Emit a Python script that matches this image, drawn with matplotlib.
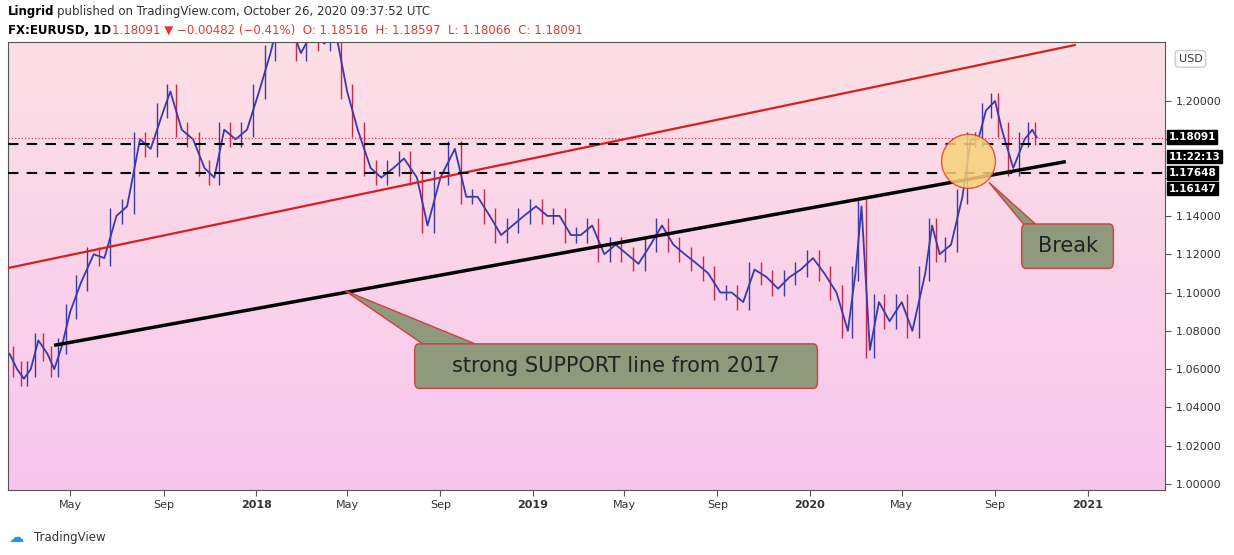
import matplotlib
matplotlib.use('Agg')
import matplotlib.pyplot as plt
import matplotlib.dates as mdates
from matplotlib.patches import Ellipse, FancyBboxPatch, Polygon
import numpy as np
import datetime as dt

# EURUSD daily closes, sampled roughly twice a month
dates = ["2017-02-10", "2017-02-20", "2017-03-01", "2017-03-10", "2017-03-20", "2017-04-01",
         "2017-04-10", "2017-04-20", "2017-05-01", "2017-05-15", "2017-06-01", "2017-06-15",
         "2017-07-01", "2017-07-15", "2017-08-01", "2017-08-15", "2017-09-01", "2017-09-10",
         "2017-09-25", "2017-10-10", "2017-10-25", "2017-11-07", "2017-11-20", "2017-12-05",
         "2017-12-20", "2018-01-05", "2018-01-20", "2018-02-01", "2018-02-15", "2018-03-01",
         "2018-03-15", "2018-04-01", "2018-04-15", "2018-05-01", "2018-05-15", "2018-06-01",
         "2018-06-15", "2018-07-01", "2018-07-15", "2018-08-01", "2018-08-15", "2018-09-01",
         "2018-09-20", "2018-10-05", "2018-10-20", "2018-11-05", "2018-11-20", "2018-12-05",
         "2018-12-20", "2019-01-05", "2019-01-20", "2019-02-05", "2019-02-20", "2019-03-05",
         "2019-03-20", "2019-04-05", "2019-04-20", "2019-05-05", "2019-05-20", "2019-06-05",
         "2019-06-20", "2019-07-05", "2019-07-20", "2019-08-05", "2019-08-20", "2019-09-05",
         "2019-09-20", "2019-10-05", "2019-10-20", "2019-11-05", "2019-11-20", "2019-12-05",
         "2019-12-20", "2020-01-05", "2020-01-20", "2020-02-05", "2020-02-20", "2020-03-01",
         "2020-03-09", "2020-03-20", "2020-04-01", "2020-04-15", "2020-05-01", "2020-05-15",
         "2020-06-01", "2020-06-10", "2020-06-20", "2020-07-05", "2020-07-20", "2020-07-31",
         "2020-08-10", "2020-08-20", "2020-09-01", "2020-09-10", "2020-09-25", "2020-10-10",
         "2020-10-20", "2020-10-26"]
closes = [1.068, 1.060, 1.055, 1.060, 1.075, 1.068, 1.060, 1.072, 1.090, 1.105, 1.120, 1.118,
          1.140, 1.145, 1.180, 1.175, 1.195, 1.205, 1.185, 1.180, 1.165, 1.160, 1.185, 1.180,
          1.185, 1.205, 1.225, 1.245, 1.240, 1.225, 1.235, 1.230, 1.238, 1.205, 1.185, 1.165,
          1.160, 1.165, 1.170, 1.160, 1.135, 1.160, 1.175, 1.150, 1.150, 1.140, 1.130, 1.135,
          1.140, 1.145, 1.140, 1.140, 1.130, 1.130, 1.135, 1.120, 1.125, 1.120, 1.115, 1.125,
          1.135, 1.125, 1.120, 1.115, 1.110, 1.100, 1.100, 1.095, 1.112, 1.108, 1.102, 1.108,
          1.112, 1.118, 1.110, 1.100, 1.080, 1.110, 1.145, 1.070, 1.095, 1.085, 1.095, 1.080,
          1.110, 1.135, 1.120, 1.125, 1.150, 1.180, 1.180, 1.195, 1.200, 1.185, 1.165, 1.180,
          1.185, 1.181]

# trend lines (start date, start price, end date, end price)
red_line = ("2017-02-08", 1.1128, "2020-12-15", 1.2292)
support_line = ("2017-04-12", 1.0726, "2020-12-01", 1.1682)
dashed_levels = [1.1776, 1.1624]
last_price = 1.18091

price_ticks = [1.00, 1.02, 1.04, 1.06, 1.08, 1.10, 1.12, 1.14, 1.16, 1.18, 1.20]
hidden_ticks = [1.16, 1.18]  # covered by the value boxes
date_ticks = ["2017-05-01", "2017-09-01", "2018-01-01", "2018-05-01", "2018-09-01", "2019-01-01",
              "2019-05-01", "2019-09-01", "2020-01-01", "2020-05-01", "2020-09-01", "2021-01-01"]
date_labels = ["May", "Sep", "2018", "May", "Sep", "2019", "May", "Sep", "2020", "May", "Sep", "2021"]

d = lambda s: mdates.date2num(dt.datetime.strptime(s, "%Y-%m-%d"))
x = np.array([d(s) for s in dates])
y = np.array(closes)

fig = plt.figure(figsize=(12.34, 5.55), dpi=100)
fig.patch.set_facecolor("white")
ax = fig.add_axes([8/1234, 65/555, 1157/1234, 448/555])
ax.set_xlim(d("2017-02-08"), d("2021-04-13"))
ax.set_ylim(0.9969, 1.2308)

# background gradient
grad = np.linspace(0, 1, 256).reshape(-1, 1)
top_c = np.array([253, 224, 229]) / 255
bot_c = np.array([247, 198, 238]) / 255
img = top_c + (bot_c - top_c) * grad[:, :, None]
ax.imshow(img, extent=[0, 1, 0, 1], transform=ax.transAxes, aspect="auto", zorder=0)

# price bars
up, dn = "#3a3aa8", "#c8284a"
for i in range(1, len(x)):
    lo, hi = min(y[i-1], y[i]) - 0.004, max(y[i-1], y[i]) + 0.004
    ax.vlines((x[i-1] + x[i]) / 2, lo, hi, color=up if y[i] >= y[i-1] else dn, lw=1, zorder=2)
ax.plot(x, y, color=up, lw=1.3, zorder=2)

ax.plot([d(red_line[0]), d(red_line[2])], [red_line[1], red_line[3]], color="#d81e1e", lw=1.6, zorder=3)
ax.plot([d(support_line[0]), d(support_line[2])], [support_line[1], support_line[3]], color="black", lw=2.5, zorder=3)
for lv in dashed_levels:
    ax.axhline(lv, color="black", ls=(0, (5, 4)), lw=1.5, zorder=3)
ax.axhline(last_price, color="#c8284a", ls=(0, (1, 2)), lw=0.8, zorder=3)

ax.add_patch(Ellipse((d("2020-07-28"), 1.1685), 71, 0.0282, facecolor="#f9d27a", alpha=0.85,
                     edgecolor="#e0402a", lw=1, zorder=4))

def callout(text, bx, by, bw, bh, tip, fs):
    tx, ty = tip
    ax.add_patch(Polygon([(bx + 0.02 * bw, by + bh), (bx + 0.15 * bw, by + bh), (tx, ty)],
                         closed=True, facecolor="#8f9a7c", edgecolor="#d04040", lw=1, zorder=5))
    ax.add_patch(FancyBboxPatch((bx, by), bw, bh, boxstyle="round,pad=0,rounding_size=5",
                                facecolor="#8f9a7c", edgecolor="#d04040", lw=1, zorder=6,
                                mutation_aspect=0.0008))
    ax.text(bx + bw / 2, by + bh / 2, text, ha="center", va="center", fontsize=fs,
            color="#222222", zorder=7)

callout("strong SUPPORT line from 2017", d("2018-07-29"), 1.0500, 531, 0.0232,
        (d("2018-04-28"), 1.1010), 15)
callout("Break", d("2020-10-06"), 1.1126, 121, 0.0232, (d("2020-08-24"), 1.1575), 15)

ax.set_xticks([d(s) for s in date_ticks])
ax.set_xticklabels(date_labels, fontsize=8, color="#333333")
for lbl, t in zip(ax.get_xticklabels(), date_labels):
    if t.isdigit():
        lbl.set_fontweight("bold")
ax.yaxis.tick_right()
ax.set_yticks(price_ticks)
ax.set_yticklabels(["" if p in hidden_ticks else f"{p:.5f}" for p in price_ticks],
                   fontsize=8, color="#333333")
ax.tick_params(axis="both", length=4, color="#555555")
for s in ax.spines.values():
    s.set_color("#555555")
    s.set_linewidth(0.8)

# right-axis value boxes
for txt, yy in [("1.18091", 1.1812), ("11:22:13", 1.1708), ("1.17648", 1.1624), ("1.16147", 1.1541)]:
    ax.text(1.003, yy, txt, transform=ax.get_yaxis_transform(), fontsize=7.5, fontweight="bold",
            color="white", va="center", ha="left",
            bbox=dict(boxstyle="square,pad=0.15", fc="black", ec="black"), zorder=8)
ax.text(1.022, 1.222, "USD", transform=ax.get_yaxis_transform(), fontsize=8, color="#333333",
        va="center", ha="center", bbox=dict(boxstyle="round,pad=0.3", fc="white", ec="#cccccc"))

fig.text(8/1234, 1 - 12/555, "Lingrid", fontsize=8.5, fontweight="bold", va="center")
fig.text(57/1234, 1 - 12/555, "published on TradingView.com, October 26, 2020 09:37:52 UTC",
         fontsize=8.5, va="center", color="#333333")
fig.text(8/1234, 1 - 30/555, "FX:EURUSD, 1D", fontsize=8.5, fontweight="bold", va="center")
fig.text(112/1234, 1 - 30/555, "1.18091 \u25bc \u22120.00482 (\u22120.41%)  O: 1.18516  H: 1.18597  L: 1.18066  C: 1.18091",
         fontsize=8.5, va="center", color="#e53935")
fig.text(34/1234, 1 - 537/555, "TradingView", fontsize=8.5, va="center", color="#333333")
fig.text(8/1234, 1 - 537/555, "\u2601", fontsize=11, va="center", color="#2196f3")

fig.savefig("out.png", dpi=100)
